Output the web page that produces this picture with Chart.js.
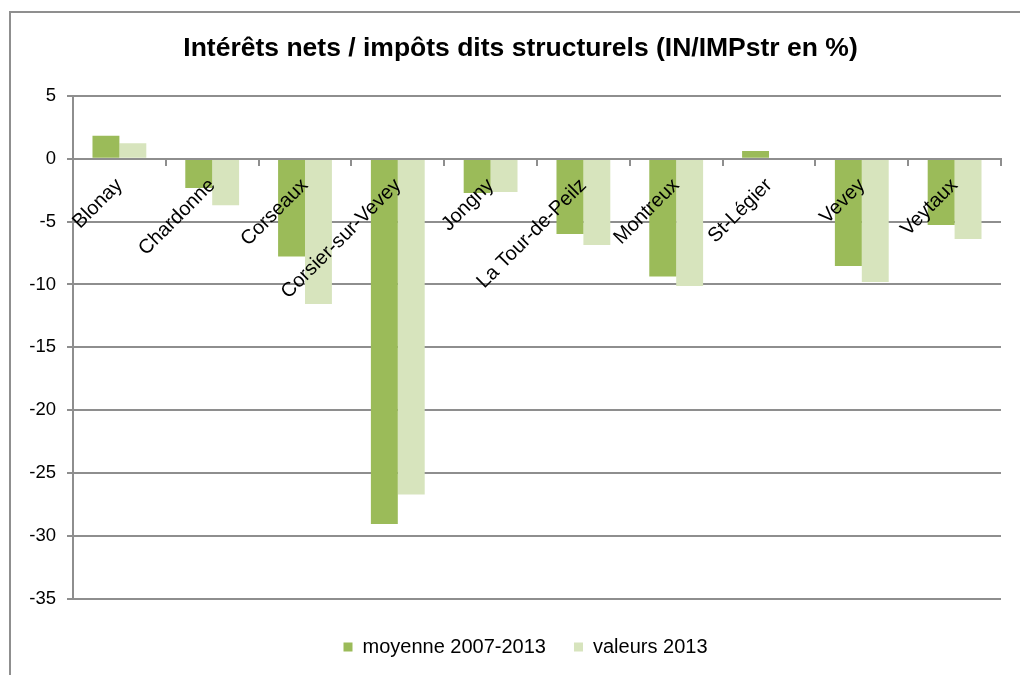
<!DOCTYPE html>
<html>
<head>
<meta charset="utf-8">
<script src="https://cdn.jsdelivr.net/npm/chart.js@4.4.1/dist/chart.umd.min.js"></script>
<style>
  html, body { margin: 0; padding: 0; background: #fff; overflow: hidden; }
  #wrap { position: relative; width: 1020px; height: 675px; }
  #frame { position: absolute; left: 9px; top: 11px; width: 1200px; height: 900px; border: 2px solid #8f8f8f; box-sizing: border-box; }
  #c { position: absolute; left: 0; top: 0; }
</style>
</head>
<body>
<div id="wrap">
  <div id="frame"></div>
  <canvas id="c" width="1020" height="675"></canvas>
</div>
<script>
const titleText = "Intérêts nets / impôts dits structurels (IN/IMPstr en %)";
const categories = ["Blonay", "Chardonne", "Corseaux", "Corsier-sur-Vevey", "Jongny", "La Tour-de-Peilz", "Montreux", "St-Légier", "Vevey", "Veytaux"];
const seriesNames = ["moyenne 2007-2013", "valeurs 2013"];
const moyenne = [1.83, -2.33, -7.77, -29.06, -2.73, -5.99, -9.36, 0.61, -8.54, -5.28];
const valeurs2013 = [1.22, -3.71, -11.56, -26.7, -2.65, -6.87, -10.13, 0, -9.81, -6.39];
const yMin = -35, yMax = 5, yStep = 5;

const gridColor = '#8e8e8e';
const font = 'Liberation Sans, Arial, sans-serif';

// shift title and legend to be centred on the outer frame, like the original
const centerShift = {
  id: 'centerShift',
  afterLayout(chart) {
    if (chart.titleBlock) chart.titleBlock.left += 30;
    if (chart.legend) chart.legend.left += 40;
  }
};

new Chart(document.getElementById('c'), {
  type: 'bar',
  data: {
    labels: categories,
    datasets: [
      { label: seriesNames[0], data: moyenne, backgroundColor: '#9BBB59', borderWidth: 0 },
      { label: seriesNames[1], data: valeurs2013, backgroundColor: '#D7E4BD', borderWidth: 0 }
    ]
  },
  plugins: [centerShift],
  options: {
    responsive: false,
    animation: false,
    layout: { padding: { left: 10, right: 19, top: 0, bottom: 8 } },
    datasets: { bar: { categoryPercentage: 0.58, barPercentage: 1.0 } },
    plugins: {
      title: {
        display: true, text: titleText, color: '#000',
        font: { family: font, size: 26.5, weight: 'bold' },
        padding: { top: 33, bottom: 31 }
      },
      legend: {
        position: 'bottom',
        title: { display: true, text: '', font: { size: 1 }, padding: { top: 0, bottom: 9 } },
        labels: { color: '#000', font: { family: font, size: 20 }, boxWidth: 9, boxHeight: 9, padding: 28 }
      },
      tooltip: { enabled: false }
    },
    scales: {
      x: {
        position: { y: 0 },
        offset: true,
        grid: { display: true, drawOnChartArea: false, drawTicks: true, tickLength: 6, offset: true, color: gridColor, lineWidth: 2, z: 1 },
        border: { display: true, color: gridColor, width: 2, z: 1 },
        ticks: { color: '#000', font: { family: font, size: 20 }, minRotation: 45, maxRotation: 45, autoSkip: false, padding: 9, z: 1 }
      },
      y: {
        min: yMin, max: yMax,
        grid: { color: gridColor, lineWidth: 2, tickLength: 6, drawTicks: true },
        border: { display: true, color: gridColor, width: 2 },
        ticks: { stepSize: yStep, color: '#000', font: { family: font, size: 18.5 }, padding: 11 },
        afterFit(scale) { scale.width = 63; }
      }
    }
  }
});
</script>
</body>
</html>
